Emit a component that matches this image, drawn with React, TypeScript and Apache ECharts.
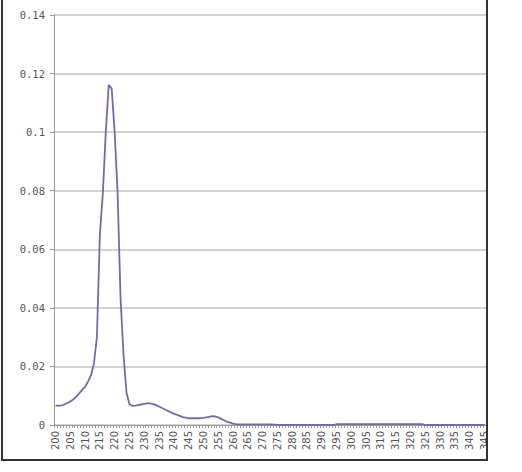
import React, { useEffect, useRef } from "react";
import * as echarts from "echarts";

const wavelengths: string[] = [];
for (let w = 200; w <= 345; w++) wavelengths.push(String(w));

// absorbance values, one per nm from 200 to 345
const values200to229 = [
  0.0066, 0.0066, 0.0067, 0.007, 0.0075, 0.008, 0.0087, 0.0097, 0.0108, 0.012,
  0.013, 0.0148, 0.017, 0.021, 0.03, 0.065, 0.079, 0.1, 0.1162, 0.1148,
  0.1, 0.079, 0.043, 0.024, 0.011, 0.0072, 0.0065, 0.0066, 0.0068, 0.007,
];
const values230to259 = [
  0.0072, 0.0074, 0.0074, 0.0071, 0.0068, 0.0063, 0.0058, 0.0053, 0.0048, 0.0043,
  0.0039, 0.0035, 0.0031, 0.0027, 0.0025, 0.0023, 0.0023, 0.0023, 0.0023, 0.0023,
  0.0024, 0.0026, 0.0028, 0.003, 0.0029, 0.0026, 0.0021, 0.0016, 0.0011, 0.0008,
];
const values260to289 = [
  0.0005, 0.0003, 0.0002, 0.0002, 0.0002, 0.0002, 0.0002, 0.0002, 0.0002, 0.0002,
  0.0002, 0.0002, 0.0002, 0.0002, 0.0001, 0, 0, 0, 0, 0,
  0, 0, 0, 0, 0, 0, 0, 0, 0, 0,
];
const values290to319 = [
  0, 0, 0, 0, 0, 0.0003, 0.0003, 0.0003, 0.0003, 0.0003,
  0.0003, 0.0003, 0.0003, 0.0003, 0.0003, 0.0003, 0.0003, 0.0003, 0.0003, 0.0003,
  0.0003, 0.0003, 0.0003, 0.0003, 0.0003, 0.0003, 0.0003, 0.0003, 0.0003, 0.0003,
];
const values320to345 = [
  0.0003, 0.0003, 0.0003, 0.0003, 0.0003, 0, 0, 0, 0, 0,
  0, 0, 0, 0, 0, 0, 0, 0, 0, 0,
  0, 0, 0, 0, 0, 0,
];
const absorbance = [
  ...values200to229,
  ...values230to259,
  ...values260to289,
  ...values290to319,
  ...values320to345,
];

const yMin = 0;
const yMax = 0.14;
const yStep = 0.02;

export default function App() {
  const ref = useRef<HTMLDivElement>(null);
  useEffect(() => {
    document.body.style.margin = "0";
    if (!ref.current) return;
    const chart = echarts.init(ref.current, undefined, { renderer: "svg" });
    chart.setOption({
      animation: false,
      backgroundColor: "#ffffff",
      grid: { left: 54, right: 36, top: 15, bottom: 47, containLabel: false },
      xAxis: {
        type: "category",
        data: wavelengths,
        boundaryGap: true,
        axisLine: { show: true, lineStyle: { color: "#9a9a9a", width: 1 } },
        axisTick: { show: true, interval: 0, length: 3, lineStyle: { color: "#9a9a9a" } },
        axisLabel: {
          interval: 4,
          rotate: 90,
          margin: 6,
          fontSize: 10,
          color: "#555555",
          fontFamily: "DejaVu Sans",
        },
        splitLine: { show: false },
      },
      yAxis: {
        type: "value",
        min: yMin,
        max: yMax,
        interval: yStep,
        axisLine: { show: true, lineStyle: { color: "#9a9a9a", width: 1 } },
        axisTick: { show: true, length: 4, lineStyle: { color: "#9a9a9a" } },
        axisLabel: {
          margin: 9,
          fontSize: 10.5,
          color: "#555555",
          fontFamily: "DejaVu Sans Mono",
        },
        splitLine: { show: true, lineStyle: { color: "#c4c4c4", width: 1.5 } },
      },
      series: [
        {
          type: "line",
          data: absorbance,
          showSymbol: false,
          symbol: "none",
          smooth: false,
          lineStyle: { color: "#6c6cb4", width: 1.8 },
        },
      ],
      graphic: [
        {
          type: "rect",
          shape: { x: 488, y: 0, width: 40, height: 472 },
          style: { fill: "#ffffff" },
          z: 100,
        },
        {
          type: "line",
          shape: { x1: 2, y1: 0, x2: 2, y2: 460 },
          style: { stroke: "#333333", lineWidth: 2 },
          z: 101,
        },
        {
          type: "line",
          shape: { x1: 487, y1: 0, x2: 487, y2: 461 },
          style: { stroke: "#333333", lineWidth: 2 },
          z: 101,
        },
        {
          type: "line",
          shape: { x1: 1, y1: 460, x2: 488, y2: 460 },
          style: { stroke: "#333333", lineWidth: 2 },
          z: 101,
        },
      ],
    });
    return () => chart.dispose();
  }, []);
  return <div ref={ref} style={{ width: 522, height: 472 }} />;
}
